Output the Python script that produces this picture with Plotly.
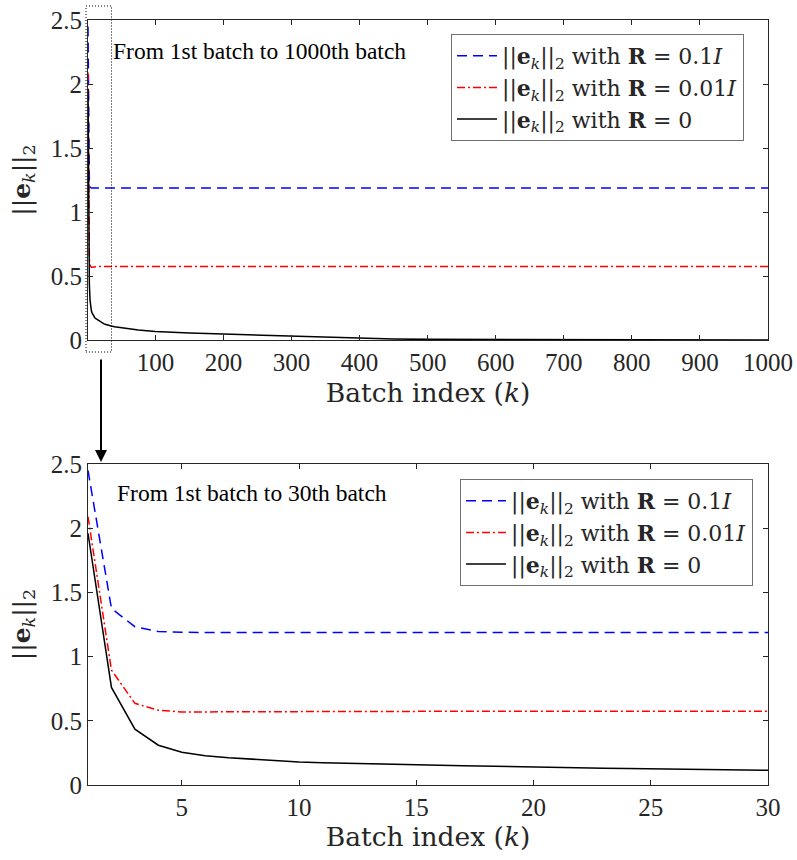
import plotly.graph_objects as go

# ---------------- data ----------------
k_zoom = list(range(1, 31))
k_tail = [35, 40, 50, 60, 75, 100, 125, 150, 200, 250, 300, 350, 400, 450, 500,
          600, 700, 800, 900, 1000]

blue_zoom = [2.45, 1.375, 1.233, 1.195, 1.189, 1.187, 1.187, 1.187, 1.187, 1.187,
             1.187, 1.187, 1.187, 1.187, 1.187, 1.187, 1.187, 1.187, 1.187, 1.187,
             1.187, 1.187, 1.187, 1.187, 1.187, 1.187, 1.187, 1.187, 1.187, 1.187]
red_zoom = [2.09, 0.895, 0.636, 0.582, 0.569, 0.568, 0.569, 0.570, 0.571, 0.572,
            0.572, 0.573, 0.573, 0.574, 0.574, 0.574, 0.575, 0.575, 0.575, 0.575,
            0.575, 0.575, 0.575, 0.575, 0.575, 0.575, 0.575, 0.575, 0.575, 0.575]
black_zoom = [1.96, 0.76, 0.435, 0.31, 0.255, 0.228, 0.212, 0.200, 0.190, 0.180,
              0.174, 0.169, 0.165, 0.161, 0.158, 0.154, 0.150, 0.146, 0.141, 0.137,
              0.135, 0.132, 0.130, 0.128, 0.125, 0.123, 0.121, 0.119, 0.117, 0.115]

blue_tail = [1.187, 1.187, 1.187, 1.187, 1.187, 1.187, 1.187, 1.187, 1.187, 1.187,
             1.187, 1.187, 1.187, 1.187, 1.187, 1.187, 1.187, 1.187, 1.187, 1.187]
red_tail = [0.575, 0.575, 0.575, 0.575, 0.575, 0.575, 0.575, 0.575, 0.575, 0.575,
            0.575, 0.575, 0.575, 0.575, 0.575, 0.575, 0.575, 0.575, 0.575, 0.575]
black_tail = [0.110, 0.104, 0.095, 0.088, 0.078, 0.067, 0.060, 0.054, 0.046, 0.038,
              0.030, 0.020, 0.011, 0.007, 0.005, 0.003, 0.002, 0.0015, 0.001, 0.0005]

y_ticks = [0, 0.5, 1, 1.5, 2, 2.5]
y_ticklabels = ["0", "0.5", "1", "1.5", "2", "2.5"]
x_top_ticks = [100, 200, 300, 400, 500, 600, 700, 800, 900, 1000]
x_bot_ticks = [5, 10, 15, 20, 25, 30]

names = [
    "||<b>e</b><sub><i>k</i></sub>||<sub>2</sub> with <b>R</b> = 0.1<i>I</i>",
    "||<b>e</b><sub><i>k</i></sub>||<sub>2</sub> with <b>R</b> = 0.01<i>I</i>",
    "||<b>e</b><sub><i>k</i></sub>||<sub>2</sub> with <b>R</b> = 0",
]
ytitle = "||<b>e</b><sub><i>k</i></sub>||<sub>2</sub>"

# ---------------- styling ----------------
TICKFONT = "Liberation Serif"
MATHFONT = "DejaVu Serif, serif"
W, H = 797, 860
styles = [
    dict(color="#0000ff", width=1.5, dash="10px,6px"),
    dict(color="#ff0000", width=1.5, dash="8px,3px,2px,3px"),
    dict(color="#000000", width=1.5, dash="solid"),
]

k_top = k_zoom + k_tail
tops = [blue_zoom + blue_tail, red_zoom + red_tail, black_zoom + black_tail]
bots = [blue_zoom, red_zoom, black_zoom]

fig = go.Figure()
for i in range(3):
    fig.add_trace(go.Scatter(x=k_top, y=tops[i], mode="lines", line=styles[i],
                             name=names[i], xaxis="x", yaxis="y", legend="legend"))
for i in range(3):
    fig.add_trace(go.Scatter(x=k_zoom, y=bots[i], mode="lines", line=styles[i],
                             name=names[i], xaxis="x2", yaxis="y2", legend="legend2"))

def px(x):
    return x / W

def py(y):
    return (H - y) / H

def axis_common():
    return dict(
        showline=True, linecolor="#262626", linewidth=1, mirror="ticks",
        ticks="inside", ticklen=5, tickcolor="#262626", showgrid=False, zeroline=False,
        automargin=False,
        tickfont=dict(family=TICKFONT, size=25, color="#262626", weight="normal"),
    )

xtitle_font = dict(family=MATHFONT, size=26.5, color="#262626")
ytitle_font = dict(family=MATHFONT, size=25, color="#262626")
legend_font = dict(family=MATHFONT, size=22, color="#262626")

fig.update_layout(
    width=W, height=H,
    margin=dict(l=0, r=0, t=0, b=0),
    paper_bgcolor="white", plot_bgcolor="white",
    font=dict(family=TICKFONT, color="#262626"),
    xaxis=dict(domain=[px(88), px(768)], anchor="y", range=[1, 1000],
               tickvals=x_top_ticks, ticktext=[str(v) for v in x_top_ticks],
               title=dict(text="Batch index (<i>k</i>)", font=xtitle_font, standoff=8),
               **axis_common()),
    yaxis=dict(domain=[py(340), py(20)], anchor="x", range=[0, 2.5],
               tickvals=y_ticks, ticktext=y_ticklabels,
               title=dict(text=ytitle, font=ytitle_font, standoff=13),
               **axis_common()),
    xaxis2=dict(domain=[px(88), px(768)], anchor="y2", range=[1, 30],
                tickvals=x_bot_ticks, ticktext=[str(v) for v in x_bot_ticks],
                title=dict(text="Batch index (<i>k</i>)", font=xtitle_font, standoff=6),
                **axis_common()),
    yaxis2=dict(domain=[py(785), py(464)], anchor="x2", range=[0, 2.5],
                tickvals=y_ticks, ticktext=y_ticklabels,
                title=dict(text=ytitle, font=ytitle_font, standoff=13),
                **axis_common()),
    legend=dict(x=px(451), y=py(34), xanchor="left", yanchor="top",
                bgcolor="white", bordercolor="#707070", borderwidth=1,
                font=legend_font, tracegroupgap=0, itemwidth=40),
    legend2=dict(x=px(460), y=py(479), xanchor="left", yanchor="top",
                 bgcolor="white", bordercolor="#707070", borderwidth=1,
                 font=legend_font, tracegroupgap=0, itemwidth=40),
    showlegend=True,
)

# dotted zoom box and arrow
fig.add_shape(type="rect", xref="paper", yref="paper",
              x0=px(86), x1=px(111.5), y0=py(352), y1=py(6),
              line=dict(color="black", width=1, dash="1px,2px"))
fig.add_annotation(xref="paper", yref="paper", x=px(101), y=py(462),
                   ax=0, ay=-104, text="", showarrow=True,
                   arrowhead=2, arrowsize=1.2, arrowwidth=2, arrowcolor="black")

fig.add_annotation(xref="paper", yref="paper", x=px(111), y=py(51),
                   xanchor="left", yanchor="middle", showarrow=False,
                   text="From 1st batch to 1000th batch",
                   font=dict(family=TICKFONT, size=23.5, color="black"))
fig.add_annotation(xref="paper", yref="paper", x=px(115), y=py(493),
                   xanchor="left", yanchor="middle", showarrow=False,
                   text="From 1st batch to 30th batch",
                   font=dict(family=TICKFONT, size=23.5, color="black"))

fig.write_html("out.html")
